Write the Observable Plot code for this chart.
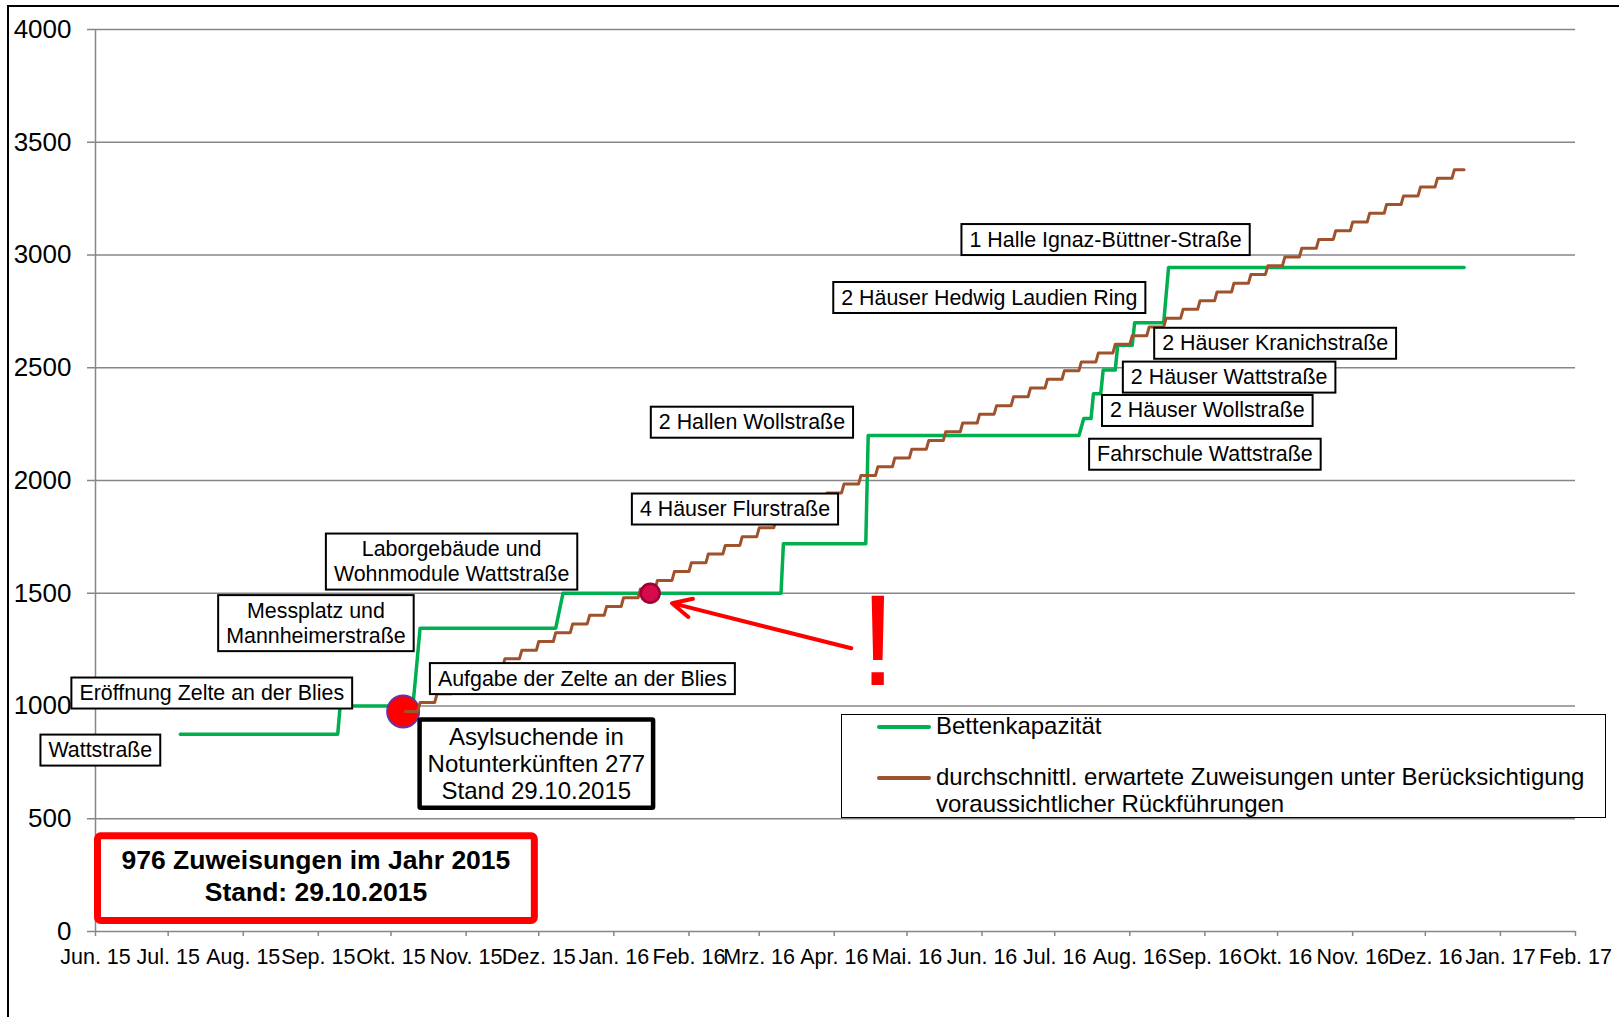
<!DOCTYPE html>
<html>
<head>
<meta charset="utf-8">
<script src="https://cdn.jsdelivr.net/npm/d3@7"></script>
<script src="https://cdn.jsdelivr.net/npm/@observablehq/plot@0.6"></script>
<style>
html, body { margin: 0; padding: 0; background: #fff; overflow: hidden; }
#wrap { position: relative; width: 1619px; height: 1017px; overflow: hidden; font-family: "Liberation Sans", Arial, sans-serif; color: #000; }
#chart { position: absolute; left: 0; top: 0; }
#frame { position: absolute; left: 7px; top: 5px; width: 2000px; height: 2000px; border-left: 2px solid #000; border-top: 2px solid #000; pointer-events: none; }
#legend { position: absolute; left: 841px; top: 714px; width: 765px; height: 104px; border: 1.5px solid #000; box-sizing: border-box; background: #fff; }
#legend .item { position: absolute; left: 35px; }
#legend .sw { position: absolute; left: 0; top: 12px; width: 54px; height: 3.5px; border-radius: 2px; }
#legend .lbl { position: absolute; left: 59px; top: 0; font-size: 24px; line-height: 26.7px; white-space: nowrap; }
</style>
</head>
<body>
<div id="wrap">
  <div id="chart"></div>
  <div id="legend"></div>
  <div id="frame"></div>
</div>
<script>
// ---------- data ----------
const xTickLabels = ["Jun. 15","Jul. 15","Aug. 15","Sep. 15","Okt. 15","Nov. 15","Dez. 15","Jan. 16","Feb. 16","Mrz. 16","Apr. 16","Mai. 16","Jun. 16","Jul. 16","Aug. 16","Sep. 16","Okt. 16","Nov. 16","Dez. 16","Jan. 17","Feb. 17"];
const xDomain = ["2015-06-01", "2017-02-01"];
const yTicks = [0, 500, 1000, 1500, 2000, 2500, 3000, 3500, 4000];

const seriesNames = ["Bettenkapazität", "durchschnittl. erwartete Zuweisungen unter Berücksichtigung\nvoraussichtlicher Rückführungen"];
const seriesColors = ["#00b050", "#a0522d"];

// Bettenkapazität (vertices of the step line)
const capacityDates = ["2015-07-06","2015-09-09","2015-09-10","2015-10-10","2015-10-11","2015-10-13","2015-12-08","2015-12-11","2016-03-10","2016-03-11","2016-04-14","2016-04-15","2016-07-11","2016-07-13","2016-07-16","2016-07-17","2016-07-20","2016-07-21","2016-07-26","2016-07-27","2016-08-02","2016-08-03","2016-08-15","2016-08-17","2016-12-17"];
const capacityValues = [875, 875, 1000, 1000, 1110, 1345, 1345, 1500, 1500, 1720, 1720, 2200, 2200, 2275, 2275, 2385, 2385, 2490, 2490, 2600, 2600, 2700, 2700, 2945, 2945];

// erwartete Zuweisungen (weekly values)
const assignmentDates = ["2015-10-07","2015-10-13","2015-10-20","2015-10-27","2015-11-03","2015-11-10","2015-11-17","2015-11-24","2015-12-01","2015-12-08","2015-12-15","2015-12-22","2015-12-29","2016-01-05","2016-01-12","2016-01-19","2016-01-26","2016-02-02","2016-02-09","2016-02-16","2016-02-23","2016-03-01","2016-03-08","2016-03-15","2016-03-22","2016-03-29","2016-04-05","2016-04-12","2016-04-19","2016-04-26","2016-05-03","2016-05-10","2016-05-17","2016-05-24","2016-05-31","2016-06-07","2016-06-14","2016-06-21","2016-06-28","2016-07-05","2016-07-12","2016-07-19","2016-07-26","2016-08-02","2016-08-09","2016-08-16","2016-08-23","2016-08-30","2016-09-06","2016-09-13","2016-09-20","2016-09-27","2016-10-04","2016-10-11","2016-10-18","2016-10-25","2016-11-01","2016-11-08","2016-11-15","2016-11-22","2016-11-29","2016-12-06","2016-12-13"];
const assignmentValues = [976,1015,1054,1092,1131,1170,1209,1247,1286,1325,1364,1402,1441,1480,1519,1557,1596,1635,1674,1712,1751,1790,1829,1867,1906,1945,1984,2022,2061,2100,2139,2177,2216,2255,2294,2332,2371,2410,2449,2487,2526,2565,2604,2642,2681,2720,2759,2797,2836,2875,2914,2952,2991,3030,3069,3107,3146,3185,3224,3262,3301,3340,3378];
const assignmentEnd = "2016-12-17";

// markers
const bigMarker = {date: "2015-10-06", value: 976};
const smallMarker = {date: "2016-01-16", value: 1500};
const arrowFrom = {date: "2016-04-08", value: 1256};
const arrowTo = {date: "2016-01-25", value: 1456};
const bang = {date: "2016-04-19", value: 1277, text: "!"};

// annotations
const noteLabels = ["Wattstraße","Eröffnung Zelte an der Blies","Messplatz und\nMannheimerstraße","Laborgebäude und\nWohnmodule Wattstraße","Aufgabe der Zelte an der Blies","4 Häuser Flurstraße","2 Hallen Wollstraße","1 Halle Ignaz-Büttner-Straße","2 Häuser Hedwig Laudien Ring","2 Häuser Kranichstraße","2 Häuser Wattstraße","2 Häuser Wollstraße","Fahrschule Wattstraße","Asylsuchende in\nNotunterkünften 277\nStand 29.10.2015","976 Zuweisungen im Jahr 2015\nStand: 29.10.2015"];
const noteDates = ["2015-06-03","2015-07-19","2015-08-31","2015-10-26","2015-12-19","2016-02-20","2016-02-27","2016-07-22","2016-06-04","2016-09-30","2016-09-11","2016-09-02","2016-09-01","2015-11-30","2015-08-31"];
const noteValues = [809, 1062, 1372, 1645, 1126, 1878, 2263, 3073, 2816, 2613, 2463, 2315, 2121, 745, 253];
const noteKinds = ["plain","plain","plain","plain","plain","plain","plain","plain","plain","plain","plain","plain","plain","black","red"];

// ---------- build ----------
const D = s => new Date(s);
const capacity = capacityDates.map((d, i) => ({date: D(d), value: capacityValues[i]}));
const assignments = [];
assignmentDates.forEach((d, i) => {
  assignments.push({date: D(d), value: assignmentValues[i]});
  const end = i < assignmentDates.length - 1 ? d3.utcDay.offset(D(assignmentDates[i + 1]), -1) : D(assignmentEnd);
  assignments.push({date: end, value: assignmentValues[i]});
});
const xTickDates = d3.utcMonth.range(D(xDomain[0]), d3.utcDay.offset(D(xDomain[1]), 1));
const noteIdx = noteLabels.map((_, i) => i);
const gray = "#878787";
const font = "Liberation Sans, Arial, sans-serif";

const noteMark = (kind, opts) => Plot.text(noteIdx.filter(i => noteKinds[i] === kind), {
  x: i => D(noteDates[i]), y: i => noteValues[i], text: i => noteLabels[i],
  textAnchor: "middle", lineAnchor: "middle", fill: "#000", fontFamily: font, ...opts
});

const plot = Plot.plot({
  width: 1619, height: 1017,
  marginLeft: 95, marginRight: 44, marginTop: 29, marginBottom: 86,
  x: {type: "utc", domain: xDomain.map(D)},
  y: {domain: [0, 4000]},
  style: {fontFamily: font, background: "none", overflow: "visible", color: "#000"},
  marks: [
    Plot.ruleY(yTicks.slice(1), {stroke: gray, strokeWidth: 1.5}),
    Plot.axisY({ticks: yTicks, tickSize: 8, tickPadding: 16, fontSize: 26, stroke: gray, strokeWidth: 1.5, tickFormat: d => `${d}`, label: null}),
    Plot.axisX({ticks: xTickDates, tickSize: 5, tickPadding: 12, fontSize: 21.5, stroke: gray, strokeWidth: 1.5, tickFormat: d => xTickLabels[xTickDates.findIndex(t => +t === +d)], label: null}),
    Plot.ruleX([D(xDomain[0])], {stroke: gray, strokeWidth: 1.5}),
    Plot.ruleY([0], {stroke: gray, strokeWidth: 1.5}),
    Plot.line(capacity, {x: "date", y: "value", stroke: seriesColors[0], strokeWidth: 3.5}),
    Plot.dot([bigMarker], {x: d => D(d.date), y: "value", r: 16, fill: "#ff0000", stroke: "#7030a0", strokeWidth: 2}),
    Plot.line(assignments, {x: "date", y: "value", stroke: seriesColors[1], strokeWidth: 3}),
    Plot.dot([smallMarker], {x: d => D(d.date), y: "value", r: 9.5, fill: "#d80a4e", stroke: "#9c0033", strokeWidth: 2.5}),
    noteMark("plain", {fontSize: 21.4, lineHeight: 1.17}),
    noteMark("black", {fontSize: 24, lineHeight: 1.11}),
    noteMark("red", {fontSize: 26.5, fontWeight: "bold", lineHeight: 1.2}),
    Plot.arrow([0], {x1: () => D(arrowFrom.date), y1: () => arrowFrom.value, x2: () => D(arrowTo.date), y2: () => arrowTo.value, stroke: "#ff0000", strokeWidth: 4, headLength: 8, headAngle: 52}),
    Plot.text([bang], {x: d => D(d.date), y: "value", text: "text", fontSize: 130, fill: "#ff0000", fontFamily: font, lineAnchor: "middle"})
  ]
});
document.getElementById("chart").appendChild(plot);

// boxes behind annotation texts
const boxStyles = [
  {padX: 8, padTop: 3.5, padBottom: 3.5, stroke: "#000", sw: 2, rx: 0},
  {padX: 8, padTop: 4, padBottom: 4, stroke: "#000", sw: 4.5, rx: 1},
  {padX: 24, padTop: 9, padBottom: 14, stroke: "#ff0000", sw: 7, rx: 3}
];
const textGroups = plot.querySelectorAll('g[aria-label="text"]');
boxStyles.forEach((st, gi) => {
  const g = textGroups[gi];
  if (!g) return;
  g.querySelectorAll("text").forEach(t => {
    const b = t.getBBox();
    const r = document.createElementNS("http://www.w3.org/2000/svg", "rect");
    r.setAttribute("x", b.x - st.padX);
    r.setAttribute("y", b.y - st.padTop);
    r.setAttribute("width", b.width + 2 * st.padX);
    r.setAttribute("height", b.height + st.padTop + st.padBottom);
    r.setAttribute("fill", "#fff");
    r.setAttribute("stroke", st.stroke);
    r.setAttribute("stroke-width", st.sw);
    r.setAttribute("rx", st.rx);
    const tr = t.getAttribute("transform");
    if (tr) r.setAttribute("transform", tr);
    t.parentNode.insertBefore(r, t);
  });
});

// legend
const legend = document.getElementById("legend");
const itemTops = [-2, 49];
seriesNames.forEach((name, i) => {
  const item = document.createElement("div");
  item.className = "item";
  item.style.top = itemTops[i] + "px";
  const sw = document.createElement("span");
  sw.className = "sw";
  sw.style.background = seriesColors[i];
  const lbl = document.createElement("span");
  lbl.className = "lbl";
  name.split("\n").forEach((line, k) => {
    if (k) lbl.appendChild(document.createElement("br"));
    lbl.appendChild(document.createTextNode(line));
  });
  item.appendChild(sw);
  item.appendChild(lbl);
  legend.appendChild(item);
});
</script>
</body>
</html>
